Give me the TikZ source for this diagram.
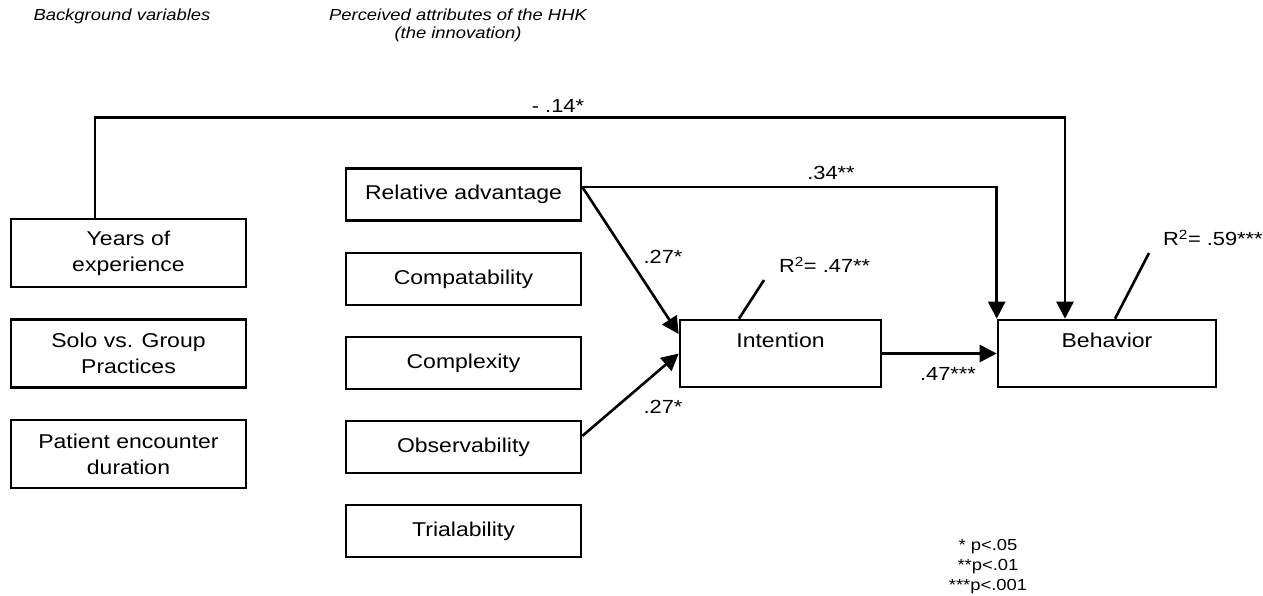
\documentclass[tikz,border=0pt]{standalone}
\usepackage{fontspec}
\setmainfont{Liberation Sans}[FakeStretch=1.15]
\usetikzlibrary{arrows.meta,calc}
\begin{document}
\begin{tikzpicture}[x=1pt,y=-1pt,
  box/.style={draw,line width=2.6pt,inner sep=0pt,align=center,
    font=\fontsize{20}{26}\selectfont},
  leftbox/.style={box,minimum width=235pt,minimum height=68pt},
  midbox/.style={box,minimum width=235pt,minimum height=52pt},
  conn/.style={line width=2.6pt},
  arr/.style={conn,-{Triangle[length=17pt,width=17pt]}},
  lbl/.style={inner sep=0pt,font=\fontsize{19}{24}\selectfont},
  hdr/.style={inner sep=0pt,align=center,font=\fontsize{16}{18}\selectfont\itshape},
  note/.style={inner sep=0pt,align=center,font=\fontsize{16}{20}\selectfont}]
\useasboundingbox (0,0) rectangle (1263,596);

% headers
\node[hdr] (h1) at (122,16) {Background variables};
\node[hdr] (h2) at (458,25) {Perceived attributes of the HHK\\(the innovation)};

% left boxes
\node[leftbox] (yrs) at (128.5,253) {Years of\\experience};
\node[leftbox] (solo) at (128.5,353.5) {Solo vs. Group\\Practices};
\node[leftbox] (pat) at (128.5,454) {Patient encounter\\duration};

% middle boxes
\node[midbox] (rel) at (463.5,194.5) {Relative advantage};
\node[midbox] (comp) at (463.5,279) {Compatability};
\node[midbox] (cplx) at (463.5,363) {Complexity};
\node[midbox] (obs) at (463.5,447) {Observability};
\node[midbox] (tri) at (463.5,531) {Trialability};

% outcome boxes
\node[box,minimum width=201pt,minimum height=67pt] (int) at (780.5,353.5) {Intention\\\mbox{}};
\node[box,minimum width=218pt,minimum height=67pt] (beh) at (1107,353.5) {Behavior\\\mbox{}};

% connectors
\draw[arr] ([xshift=-33.5pt]yrs.north) -- ++(0,-100) -| ([xshift=-42pt]beh.north);
\node[lbl] (l14) at (558,106) {- .14*};

\draw[arr] ([yshift=7.5pt]rel.east) -| (beh.north west);
\node[lbl] (l34) at (831,173) {.34**};

\draw[arr] ([yshift=7.5pt]rel.east) -- ([yshift=19.5pt]int.west);
\node[lbl] (l27a) at (663,257) {.27*};

\draw[arr] ([yshift=11pt]obs.east) -- (int.west);
\node[lbl] (l27b) at (663,407) {.27*};

\draw[arr] (int.east) -- (beh.west);
\node[lbl] (l47) at (948,374) {.47***};

% R squared
\coordinate (r1) at (764,280);
\draw[conn] ([xshift=-41.5pt]int.north) -- (r1);
\node[lbl,anchor=west] (rsq1) at (779,265) {R\textsuperscript{2}= .47**};

\coordinate (r2) at (1149,253);
\draw[conn] ([xshift=8pt]beh.north) -- (r2);
\node[lbl,anchor=west] (rsq2) at (1163,238) {R\textsuperscript{2}= .59***};

% footnote
\node[note] (fn) at (988,567) {* p<.05\\**p<.01\\***p<.001};
\end{tikzpicture}
\end{document}
